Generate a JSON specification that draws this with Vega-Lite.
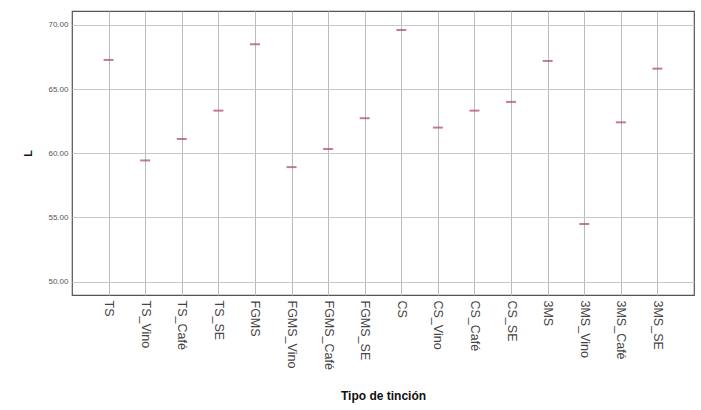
{
  "$schema": "https://vega.github.io/schema/vega-lite/v6.json",
  "width": 622,
  "height": 284,
  "autosize": {"type": "none"},
  "padding": {"left": 72, "top": 11, "right": 7, "bottom": 115},
  "background": "white",
  "config": {
    "view": {"stroke": "#555555", "strokeWidth": 1.2},
    "font": "Liberation Sans"
  },
  "data": {
    "values": [
      {"tipo": "TS", "L": 67.27},
      {"tipo": "TS_Vino", "L": 59.44},
      {"tipo": "TS_Café", "L": 61.11},
      {"tipo": "TS_SE", "L": 63.32},
      {"tipo": "FGMS", "L": 68.49},
      {"tipo": "FGMS_Vino", "L": 58.92},
      {"tipo": "FGMS_Café", "L": 60.33},
      {"tipo": "FGMS_SE", "L": 62.73},
      {"tipo": "CS", "L": 69.6},
      {"tipo": "CS_Vino", "L": 62.0},
      {"tipo": "CS_Café", "L": 63.32},
      {"tipo": "CS_SE", "L": 64.0},
      {"tipo": "3MS", "L": 67.19},
      {"tipo": "3MS_Vino", "L": 54.49},
      {"tipo": "3MS_Café", "L": 62.41},
      {"tipo": "3MS_SE", "L": 66.59}
    ]
  },
  "mark": {"type": "tick", "orient": "horizontal", "size": 10, "thickness": 2, "color": "#a8466a"},
  "encoding": {
    "x": {
      "field": "tipo",
      "type": "nominal",
      "sort": null,
      "scale": {"type": "point", "padding": 1.386},
      "axis": {
        "title": "Tipo de tinción",
        "titleFont": "Liberation Sans",
        "titleFontSize": 12,
        "titleFontWeight": "bold",
        "titleColor": "#111111",
        "titlePadding": 21,
        "labelAngle": 90,
        "labelAlign": "left",
        "labelBaseline": "middle",
        "labelFontSize": 12.5,
        "labelColor": "#444444",
        "labelPadding": 5,
        "ticks": false,
        "domain": false,
        "grid": true,
        "gridColor": "#bbbbbb",
        "gridWidth": 1
      }
    },
    "y": {
      "field": "L",
      "type": "quantitative",
      "scale": {"domain": [48.96, 71.08], "nice": false, "zero": false},
      "axis": {
        "title": "L",
        "titleFontSize": 11,
        "titleFontWeight": "bold",
        "titleColor": "#111111",
        "titlePadding": 14,
        "values": [50, 55, 60, 65, 70],
        "format": ".2f",
        "labelFontSize": 8,
        "labelColor": "#555555",
        "labelPadding": 4,
        "ticks": false,
        "domain": false,
        "grid": true,
        "gridColor": "#c8c8c8",
        "gridWidth": 1
      }
    }
  }
}
